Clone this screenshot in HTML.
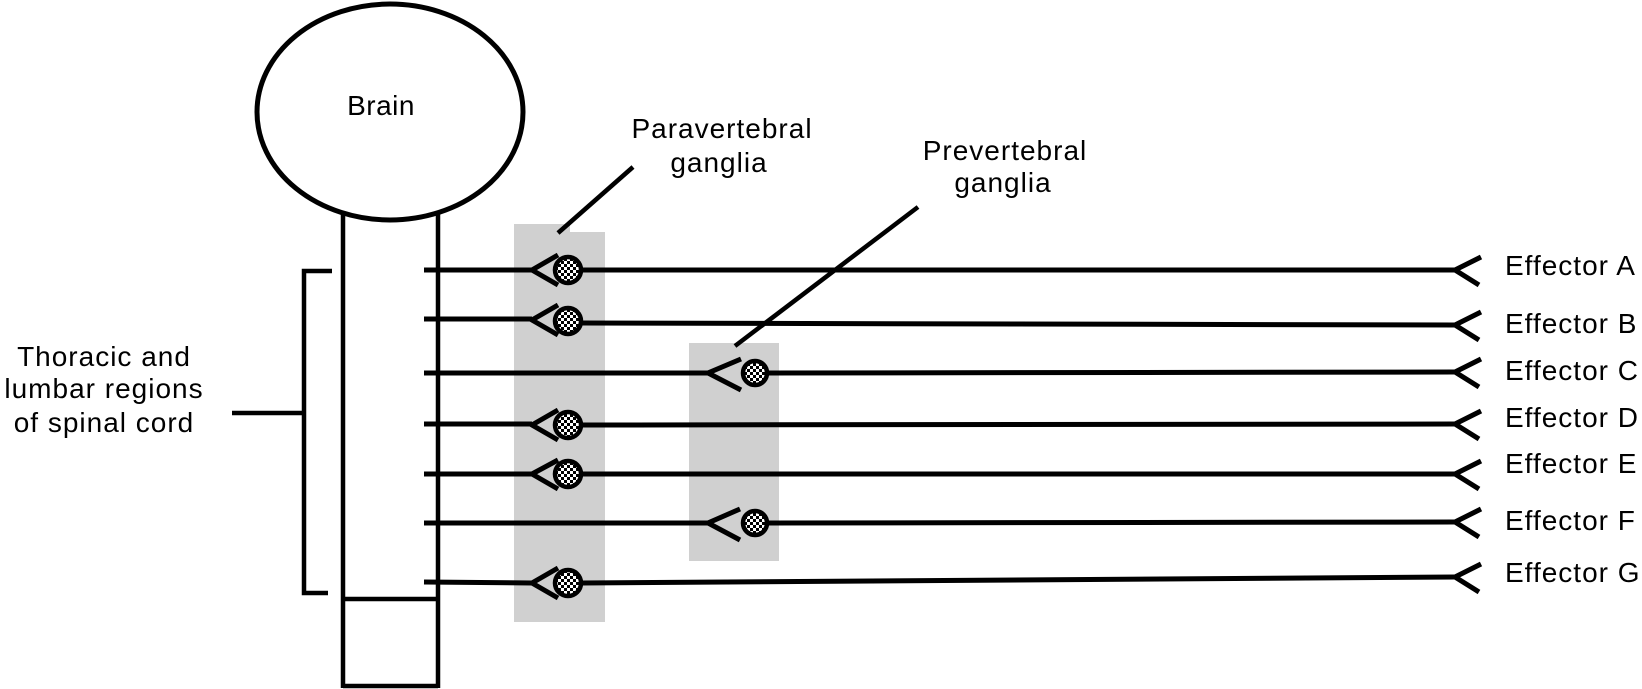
<!DOCTYPE html>
<html>
<head>
<meta charset="utf-8">
<style>
  html,body{margin:0;padding:0;background:#fff;}
  svg{display:block;}
  text{font-family:"Liberation Sans", sans-serif;font-size:28px;fill:#000;}
</style>
</head>
<body>
<svg width="1642" height="689" viewBox="0 0 1642 689" xmlns="http://www.w3.org/2000/svg">
  <defs>
    <pattern id="chk" x="0" y="0" width="6" height="6" patternUnits="userSpaceOnUse">
      <rect width="6" height="6" fill="#fff"/>
      <rect x="0" y="0" width="3" height="3" fill="#000"/>
      <rect x="3" y="3" width="3" height="3" fill="#000"/>
    </pattern>
  </defs>

  <!-- grey ganglion boxes -->
  <polygon points="514,224 570,224 570,232 605,232 605,622 514,622" fill="#d0d0d0"/>
  <rect x="689" y="343" width="90" height="218" fill="#d0d0d0"/>

  <g stroke="#000" stroke-width="4.5" fill="none">
    <!-- brain -->
    <ellipse cx="390" cy="112" rx="133" ry="108" stroke-width="5"/>
    <!-- spinal cord -->
    <line x1="343" y1="213" x2="343" y2="688"/>
    <line x1="438" y1="213" x2="438" y2="688"/>
    <line x1="343" y1="599" x2="438" y2="599"/>
    <line x1="343" y1="686" x2="438" y2="686"/>

    <!-- bracket -->
    <polyline points="332,271 304,271 304,593 328,593"/>
    <line x1="232" y1="413" x2="304" y2="413"/>

    <!-- pointer lines -->
    <line x1="633" y1="167" x2="558" y2="233"/>
    <line x1="918" y1="207" x2="735" y2="346"/>
  </g>

  <g stroke="#000" stroke-width="5" fill="none">
    <!-- A -->
    <line x1="424" y1="270" x2="532" y2="270"/>
    <polyline points="558,255 532,270 558,285"/>
    <line x1="582" y1="270" x2="1455" y2="270"/>
    <polyline points="1481,257 1455,270 1479,285"/>
    <!-- B -->
    <line x1="424" y1="319" x2="532" y2="319"/>
    <polyline points="558,305 532,320 558,335"/>
    <line x1="582" y1="323" x2="1455" y2="325"/>
    <polyline points="1481,312 1455,325 1479,340"/>
    <!-- C -->
    <line x1="424" y1="373" x2="708" y2="373"/>
    <polyline points="741,359 708,373 741,390"/>
    <line x1="768" y1="373" x2="1455" y2="372"/>
    <polyline points="1481,359 1455,372 1479,387"/>
    <!-- D -->
    <line x1="424" y1="424" x2="532" y2="424"/>
    <polyline points="558,410 532,425 558,440"/>
    <line x1="582" y1="425" x2="1455" y2="424"/>
    <polyline points="1481,411 1455,424 1479,439"/>
    <!-- E -->
    <line x1="424" y1="474" x2="532" y2="474"/>
    <polyline points="558,460 532,474 558,489"/>
    <line x1="582" y1="474" x2="1455" y2="474"/>
    <polyline points="1481,461 1455,474 1479,489"/>
    <!-- F -->
    <line x1="424" y1="523" x2="708" y2="523"/>
    <polyline points="740,509 708,523 740,540"/>
    <line x1="768" y1="523" x2="1455" y2="522"/>
    <polyline points="1481,509 1455,522 1479,537"/>
    <!-- G -->
    <line x1="424" y1="582" x2="532" y2="583"/>
    <polyline points="558,568 532,583 558,598"/>
    <line x1="582" y1="583" x2="1455" y2="577"/>
    <polyline points="1481,564 1455,577 1479,592"/>
  </g>

  <!-- ganglion cell bodies -->
  <g stroke="#000" stroke-width="4.5" fill="url(#chk)">
    <circle cx="568" cy="270" r="13"/>
    <circle cx="568" cy="321" r="13"/>
    <circle cx="568" cy="425" r="13"/>
    <circle cx="568" cy="474" r="13"/>
    <circle cx="568" cy="583" r="13"/>
    <circle cx="755" cy="373" r="12"/>
    <circle cx="755" cy="523" r="12"/>
  </g>

  <!-- labels -->
  <text x="381" y="115" text-anchor="middle" letter-spacing="0.5">Brain</text>

  <text x="104" y="366" text-anchor="middle" letter-spacing="1">Thoracic and</text>
  <text x="104" y="398" text-anchor="middle" letter-spacing="1">lumbar regions</text>
  <text x="104" y="432" text-anchor="middle" letter-spacing="1">of spinal cord</text>

  <text x="722" y="138" text-anchor="middle" letter-spacing="1">Paravertebral</text>
  <text x="719" y="172" text-anchor="middle" letter-spacing="1">ganglia</text>

  <text x="1005" y="160" text-anchor="middle" letter-spacing="1">Prevertebral</text>
  <text x="1003" y="192" text-anchor="middle" letter-spacing="1">ganglia</text>

  <g letter-spacing="1">
    <text x="1505" y="275">Effector A</text>
    <text x="1505" y="333">Effector B</text>
    <text x="1505" y="380">Effector C</text>
    <text x="1505" y="427">Effector D</text>
    <text x="1505" y="473">Effector E</text>
    <text x="1505" y="530">Effector F</text>
    <text x="1505" y="582">Effector G</text>
  </g>
</svg>
</body>
</html>
